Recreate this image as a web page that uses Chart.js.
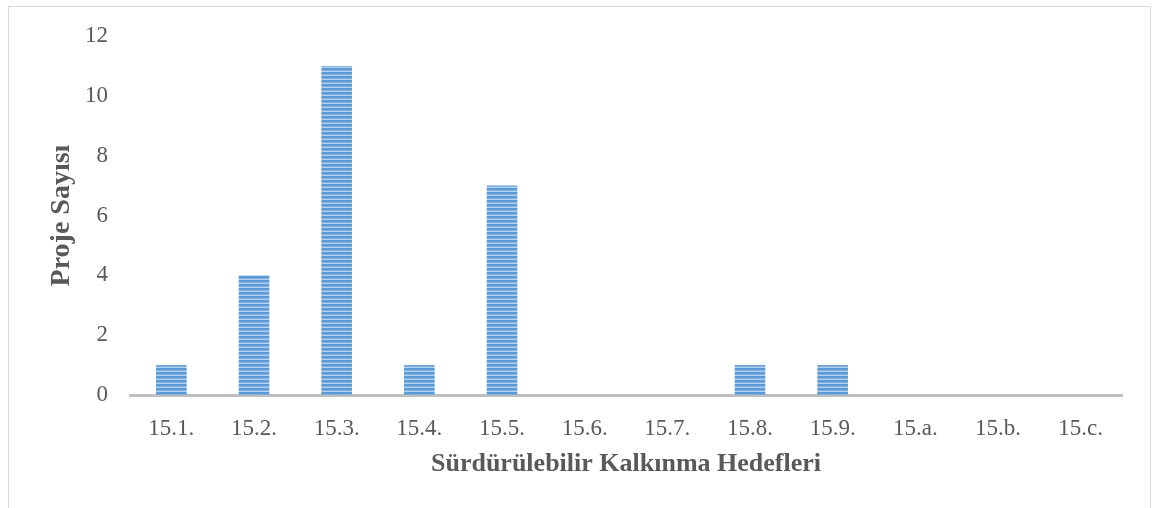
<!DOCTYPE html>
<html lang="tr">
  <head>
    <meta charset="utf-8" />
    <title>Proje Sayısı</title>
    <style>
      * {
        margin: 0;
        padding: 0;
      }
      body {
        background: #fff;
        width: 1160px;
        height: 508px;
        overflow: hidden;
        position: relative;
      }
      .frame {
        position: absolute;
        left: 8px;
        top: 6px;
        width: 1141px;
        height: 520px;
        border: 1px solid #d9d9d9;
      }
      canvas {
        position: absolute;
        left: 0;
        top: 0;
      }
    </style>
  </head>
  <body>
    <div class="frame"></div>
    <canvas id="myChart" width="1160" height="508"></canvas>
    <script src="https://cdn.jsdelivr.net/npm/chart.js/dist/chart.umd.min.js"></script>
    <script>
      const categories = ["15.1.", "15.2.", "15.3.", "15.4.", "15.5.", "15.6.", "15.7.", "15.8.", "15.9.", "15.a.", "15.b.", "15.c."];
      const projectCounts = [1, 4, 11, 1, 7, 0, 0, 1, 1, 0, 0, 0];
      const yTicks = [0, 2, 4, 6, 8, 10, 12];

      // striped fill like the original bars
      function stripes() {
        const c = document.createElement("canvas");
        c.width = 4;
        c.height = 4;
        const g = c.getContext("2d");
        g.fillStyle = "#5b9bd5";
        g.fillRect(0, 0, 4, 4);
        g.fillStyle = "#b5d1ef";
        g.fillRect(0, 3, 4, 1);
        g.fillStyle = "#7fb0e0";
        g.fillRect(0, 2, 4, 1);
        return g.createPattern(c, "repeat");
      }

      const font = "'Liberation Serif', 'Times New Roman', serif";

      new Chart(document.getElementById("myChart"), {
        type: "bar",
        data: {
          labels: categories,
          datasets: [
            {
              label: "Proje Sayısı",
              data: projectCounts,
              backgroundColor: stripes(),
              borderWidth: 0,
              barPercentage: 0.37,
              categoryPercentage: 1,
            },
          ],
        },
        options: {
          responsive: false,
          animation: false,
          layout: { padding: { left: 45, right: 38, top: 36, bottom: 24 } },
          plugins: {
            legend: { display: false },
            tooltip: { enabled: false },
          },
          scales: {
            x: {
              grid: { display: false },
              border: { display: true, color: "#bfbfbf", width: 3 },
              ticks: { color: "#595959", font: { family: font, size: 23 }, padding: 12 },
              title: {
                display: true,
                text: "Sürdürülebilir Kalkınma Hedefleri",
                color: "#595959",
                font: { family: font, size: 26, weight: "bold" },
                padding: { top: 4 },
              },
              afterFit(scale) {
                scale.height = 89;
              },
            },
            y: {
              min: 0,
              max: 12,
              grid: { display: false },
              border: { display: false },
              afterBuildTicks(scale) {
                scale.ticks = yTicks.map((v) => ({ value: v }));
              },
              ticks: { color: "#595959", font: { family: font, size: 23 }, padding: 14 },
              title: {
                display: true,
                text: "Proje Sayısı",
                color: "#595959",
                font: { family: font, size: 28, weight: "bold" },
                padding: 0,
              },
              afterFit(scale) {
                scale.width = 85;
              },
            },
          },
        },
      });
    </script>
  </body>
</html>
